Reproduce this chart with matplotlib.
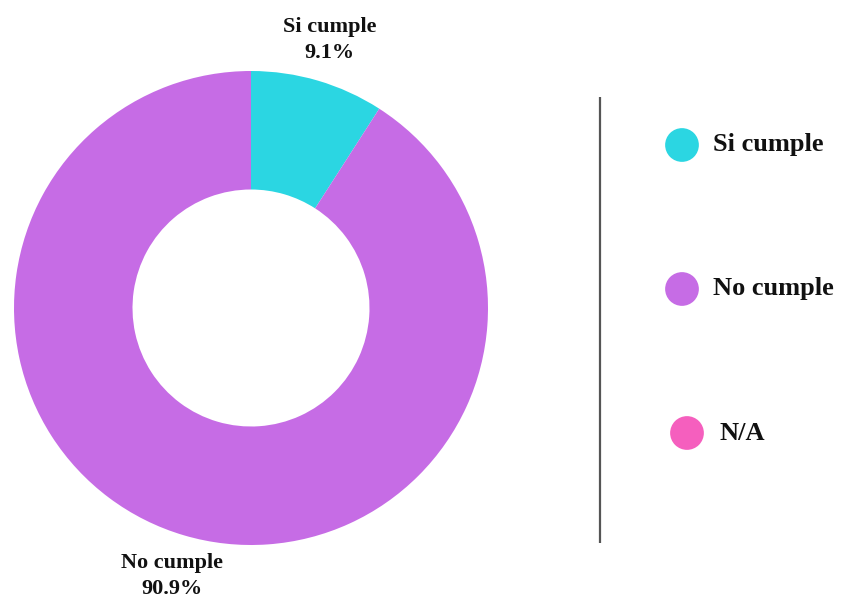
import numpy as np
import matplotlib
matplotlib.use("Agg")
import matplotlib.pyplot as plt

categories = ["Si cumple", "No cumple", "N/A"]
values = [9.1, 90.9, 0.0]
colors = ["#2BD6E2", "#C66CE5", "#F55FBE"]

W, H = 841, 601
fig = plt.figure(figsize=(W / 100, H / 100), dpi=100)
ax = fig.add_axes([0, 0, 1, 1])

cx, cy, r = 251, H - 308, 237
font = dict(family="Liberation Serif", weight="bold", color="#111111")

# donut: only the non-zero slices are drawn
vals = np.array(values)
mask = vals > 0
ax.pie(vals[mask], colors=[c for c, m in zip(colors, mask) if m],
       startangle=90, counterclock=False, center=(cx, cy), radius=r,
       wedgeprops=dict(width=r * 0.5, linewidth=0), frame=True)
ax.set_xlim(0, W)
ax.set_ylim(0, H)
ax.set_aspect("equal")
ax.axis("off")

# slice labels placed outside the ring at each slice's mid angle
start = 90.0
total = vals.sum()
for name, v in zip(categories, values):
    if v <= 0:
        continue
    sweep = 360.0 * v / total
    mid = np.deg2rad(start - sweep / 2)
    start -= sweep
    d = r * 1.18
    ax.text(cx + d * np.cos(mid), cy + d * np.sin(mid), f"{name}\n{v:.1f}%",
            ha="center", va="center", fontsize=16, linespacing=1.4, **font)

# separator
ax.plot([600, 600], [H - 97, H - 543], color="#555555", lw=1.6, solid_capstyle="butt")

# legend
ys = [H - 145, H - 289, H - 433]
xs = [682, 682, 687]
txs = [713, 713, 720]
for name, col, y, x, tx in zip(categories, colors, ys, xs, txs):
    ax.scatter([x], [y], s=590, color=col, edgecolors="none")
    ax.text(tx, y, name, ha="left", va="center", fontsize=19, **font)

fig.savefig("out.png", dpi=100, facecolor="white")
